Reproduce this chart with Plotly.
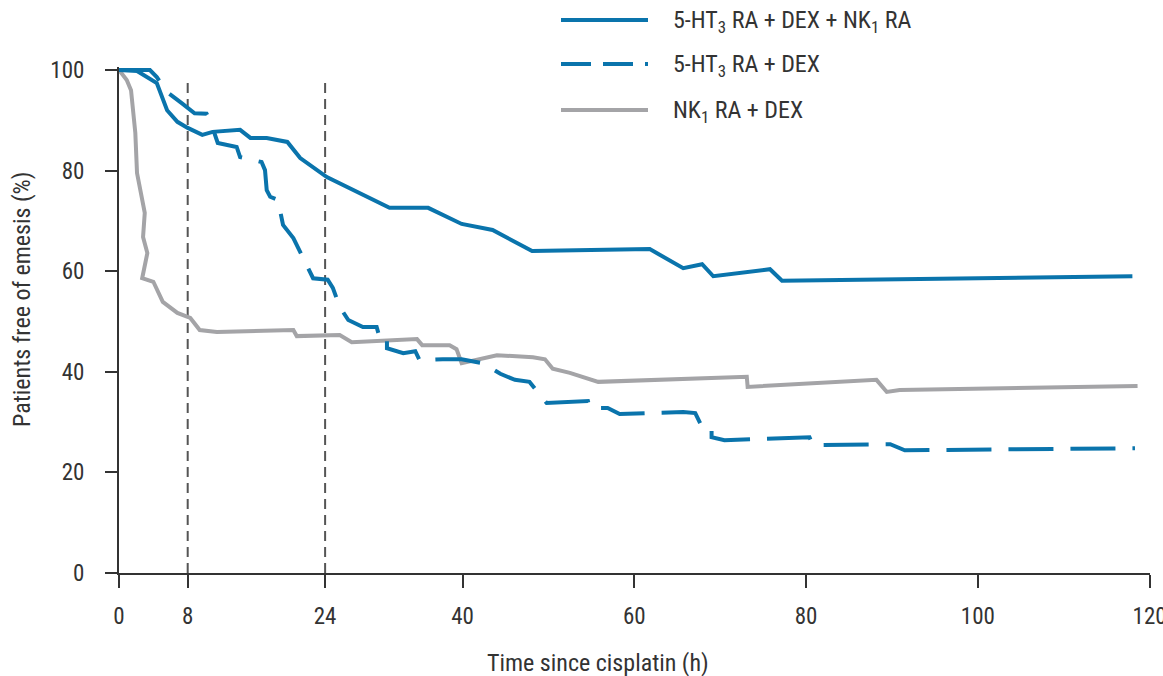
import plotly.graph_objects as go

# ---------------- data ----------------
triple_x = [0, 2.1, 4.4, 5.1, 5.6, 6.8, 8.0, 9.7, 10.9, 14.1, 15.3, 17.2, 19.6, 21.1, 24.2,
            31.5, 36.0, 39.9, 43.5, 48.1, 61.8, 65.7, 67.9, 69.2, 75.8, 77.2, 90.9, 118.0]
triple_y = [100, 99.8, 97.4, 94.0, 92.0, 89.7, 88.5, 87.1, 87.7, 88.1, 86.5, 86.5, 85.7, 82.5, 78.7,
            72.6, 72.6, 69.4, 68.2, 64.0, 64.4, 60.6, 61.4, 59.0, 60.4, 58.1, 58.4, 59.0]

dual_x = [0, 3.6, 4.4, 5.6, 7.3, 8.8, 10.2, 10.6, 11.5, 13.7, 14.1, 16.6, 17.0, 17.2, 17.6, 18.5,
          19.1, 20.3, 21.4, 22.6, 24.3, 24.9, 25.7, 26.7, 28.4, 30.0, 30.2, 31.2, 31.2, 33.1,
          34.5, 35.0, 37.7, 39.9, 42.4, 44.4, 46.1, 47.8, 49.8, 52.3, 54.6, 54.8, 56.9, 58.3,
          63.6, 65.7, 67.1, 68.0, 69.0, 69.0, 70.5, 75.8, 77.9, 80.4, 80.8, 82.4, 84.5, 89.8,
          91.5, 118.3]
dual_y = [100, 100, 98.6, 95.6, 93.4, 91.4, 91.3, 90.0, 85.5, 84.7, 82.7, 81.7, 80.1, 76.1, 74.8, 74.2,
          69.2, 66.6, 62.8, 58.6, 58.3, 56.7, 52.9, 50.3, 48.9, 48.9, 47.7, 47.7, 44.7, 43.7,
          44.1, 42.3, 42.5, 42.5, 41.7, 39.6, 38.4, 38.0, 33.8, 34.0, 34.2, 32.8, 32.8, 31.6,
          31.8, 32.0, 31.8, 28.6, 28.6, 27.0, 26.4, 26.8, 27.0, 27.0, 25.4, 25.4, 25.4, 25.6,
          24.4, 24.8]

nk1_x = [0, 0.9, 1.4, 1.9, 2.1, 3.0, 2.8, 3.3, 2.7, 4.0, 5.1, 6.8, 8.3, 9.4, 11.4, 20.3, 20.7,
         25.7, 27.1, 34.7, 35.3, 38.5, 39.3, 39.9, 44.0, 48.2, 49.6, 50.5, 52.5, 55.8, 73.1,
         73.2, 88.2, 89.4, 90.9, 118.6]
nk1_y = [100, 98, 96, 87.5, 79.5, 71.6, 66.8, 63.6, 58.6, 57.9, 53.9, 51.7, 50.7, 48.3, 47.9, 48.3, 47.1,
         47.3, 45.9, 46.5, 45.3, 45.3, 44.5, 41.7, 43.3, 42.9, 42.5, 40.6, 39.8, 38.0, 39.0,
         37.0, 38.4, 36.0, 36.4, 37.2]

series_names = ["5-HT<sub>3</sub> RA + DEX + NK<sub>1</sub> RA",
                "5-HT<sub>3</sub> RA + DEX",
                "NK<sub>1</sub> RA + DEX"]
x_ticks = [0, 8, 24, 40, 60, 80, 100, 120]
y_ticks = [0, 20, 40, 60, 80, 100]
ref_hours = [8, 24]

BLUE = "#0a74ac"
GREY = "#a4a4a7"
AXIS = "#333333"
FONT = "Liberation Sans Narrow, Arial Narrow, Roboto Condensed, Liberation Sans, Arial, sans-serif"
DASH = "45px,17px"

W, H = 1163, 676
ML, MR, MT, MB = 119, 13, 67, 103
PW, PH = W - ML - MR, H - MT - MB


def px(xp):
    return (xp - ML) / PW


def py(yp):
    return (H - MB - yp) / PH


fig = go.Figure()
fig.add_trace(go.Scatter(x=nk1_x, y=nk1_y, mode="lines", name=series_names[2],
                         line=dict(color=GREY, width=4), showlegend=False))
fig.add_trace(go.Scatter(x=dual_x, y=dual_y, mode="lines", name=series_names[1],
                         line=dict(color=BLUE, width=4, dash=DASH), showlegend=False))
fig.add_trace(go.Scatter(x=triple_x, y=triple_y, mode="lines", name=series_names[0],
                         line=dict(color=BLUE, width=4), showlegend=False))

shapes = []
for h in ref_hours:
    shapes.append(dict(type="line", xref="x", yref="y", x0=h, x1=h, y0=0, y1=98.6,
                       line=dict(color="#555555", width=2, dash="10px,6px"), layer="below"))

# manual legend (long keys as in the reference)
leg_rows = [20, 64, 110]
leg_styles = [dict(color=BLUE, width=4), dict(color=BLUE, width=4, dash="30px,12px"),
              dict(color=GREY, width=4)]
annotations = []
for yy, st, nm in zip(leg_rows, leg_styles, series_names):
    shapes.append(dict(type="line", xref="paper", yref="paper", x0=px(561), x1=px(648),
                       y0=py(yy), y1=py(yy), line=st))
    annotations.append(dict(xref="paper", yref="paper", x=px(671), y=py(yy + 1), text=nm,
                            showarrow=False, xanchor="left", yanchor="middle",
                            font=dict(size=24, color=AXIS, family=FONT)))

annotations.append(dict(xref="paper", yref="paper", x=px(598), y=py(663),
                        text="Time since cisplatin (h)", showarrow=False,
                        xanchor="center", yanchor="middle",
                        font=dict(size=24, color=AXIS, family=FONT)))
annotations.append(dict(xref="paper", yref="paper", x=px(22), y=py(300),
                        text="Patients free of emesis (%)", showarrow=False, textangle=-90,
                        xanchor="center", yanchor="middle",
                        font=dict(size=24, color=AXIS, family=FONT)))

fig.update_layout(
    width=W, height=H,
    margin=dict(l=ML, r=MR, t=MT, b=MB, autoexpand=False),
    paper_bgcolor="white", plot_bgcolor="white",
    font=dict(family=FONT, size=23, color=AXIS),
    shapes=shapes, annotations=annotations,
    showlegend=False,
    xaxis=dict(range=[0, 120.05], tickmode="array", tickvals=x_ticks,
               ticktext=[str(v) for v in x_ticks], automargin=False,
               showgrid=False, zeroline=False, showline=True, linecolor=AXIS, linewidth=2,
               ticks="outside", ticklen=13, tickwidth=1.5, tickcolor=AXIS,
               ticklabelstandoff=8, ticklabeloverflow="allow",
               tickfont=dict(size=23, color=AXIS, family=FONT)),
    yaxis=dict(range=[0, 100.6], tickmode="array", tickvals=y_ticks,
               ticktext=[str(v) for v in y_ticks], automargin=False,
               showgrid=False, zeroline=False, showline=True, linecolor=AXIS, linewidth=2,
               ticks="outside", ticklen=12, tickwidth=1.5, tickcolor=AXIS,
               ticklabelstandoff=16,
               tickfont=dict(size=23, color=AXIS, family=FONT)),
)

# remove the browser's default 8px page margin so the figure fills the window
fig.write_html("out.html", config={"displayModeBar": False},
               post_script="document.body.style.margin='0';document.body.style.overflow='hidden';")
